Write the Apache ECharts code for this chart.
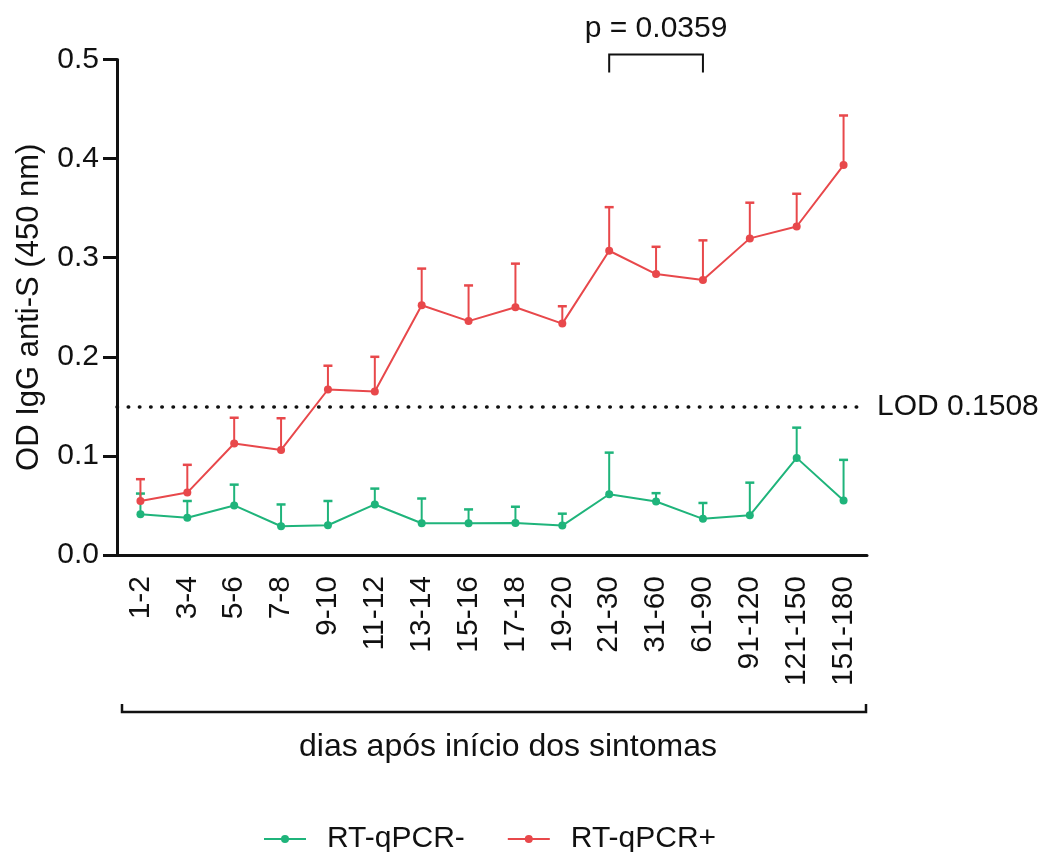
<!DOCTYPE html>
<html>
<head>
<meta charset="utf-8">
<script src="https://cdn.jsdelivr.net/npm/echarts@6/dist/echarts.min.js"></script>
<style>
  html, body { margin: 0; padding: 0; background: #fff; }
  #chart { width: 1044px; height: 852px; }
</style>
</head>
<body>
<div id="chart"></div>
<script>
// Day ranges after symptom onset
const categories = ['1-2', '3-4', '5-6', '7-8', '9-10', '11-12', '13-14', '15-16', '17-18', '19-20',
  '21-30', '31-60', '61-90', '91-120', '121-150', '151-180'];

// RT-qPCR negative: mean OD and upper error
const negMean = [0.041, 0.0375, 0.050, 0.029, 0.030, 0.051, 0.032, 0.032, 0.0324, 0.0297, 0.0613, 0.054, 0.0365, 0.040, 0.098, 0.055];
const negErr  = [0.021, 0.017, 0.021, 0.022, 0.0245, 0.016, 0.025, 0.014, 0.0163, 0.012, 0.042, 0.0084, 0.016, 0.033, 0.0305, 0.041];

// RT-qPCR positive: mean OD and upper error
const posMean = [0.0545, 0.063, 0.1125, 0.106, 0.167, 0.165, 0.252, 0.236, 0.250, 0.2335, 0.307, 0.2835, 0.2775, 0.3195, 0.3315, 0.3935];
const posErr  = [0.022, 0.028, 0.026, 0.032, 0.024, 0.035, 0.037, 0.036, 0.044, 0.0175, 0.044, 0.0275, 0.040, 0.036, 0.033, 0.050];

const yTicks = [0, 0.1, 0.2, 0.3, 0.4, 0.5];
const lod = 0.1508;
const pLabel = 'p = 0.0359';
const pFrom = '21-30', pTo = '61-90';

const GREEN = '#1fb47b';
const RED = '#e8484b';
const FONT = '"Liberation Sans", Arial, sans-serif';

const chart = echarts.init(document.getElementById('chart'));

function errorBars(means, errs, color) {
  return {
    type: 'custom',
    silent: true,
    data: means.map((m, i) => [i, m, errs[i]]),
    renderItem: function (params, api) {
      const i = api.value(0), m = api.value(1), e = api.value(2);
      const base = api.coord([i, m]);
      const top = api.coord([i, m + e]);
      const half = 4.5;
      return {
        type: 'group',
        children: [
          { type: 'line', shape: { x1: base[0], y1: base[1], x2: top[0], y2: top[1] },
            style: { stroke: color, lineWidth: 2 } },
          { type: 'line', shape: { x1: top[0] - half, y1: top[1], x2: top[0] + half, y2: top[1] },
            style: { stroke: color, lineWidth: 2.5 } }
        ]
      };
    },
    z: 2
  };
}

const option = {
  backgroundColor: '#fff',
  animation: false,
  textStyle: { fontFamily: FONT },
  grid: { left: 117, right: 177, top: 59.5, bottom: 297 },
  legend: {
    left: 258,
    top: 819,
    itemWidth: 42,
    itemHeight: 10,
    itemGap: 42,
    data: ['RT-qPCR-', 'RT-qPCR+'],
    textStyle: { fontSize: 30, color: '#111', fontFamily: FONT, padding: [0, 0, 0, 16] }
  },
  xAxis: {
    type: 'category',
    data: categories,
    boundaryGap: true,
    axisLine: { lineStyle: { color: '#111', width: 3 } },
    axisTick: { alignWithLabel: true, length: 15, lineStyle: { color: '#111', width: 3 } },
    axisLabel: { rotate: 90, fontSize: 30, color: '#111', margin: 21, interval: 0, fontFamily: FONT },
    splitLine: { show: false }
  },
  yAxis: {
    type: 'value',
    min: 0,
    max: 0.5,
    interval: 0.1,
    name: 'OD IgG anti-S (450 nm)',
    nameLocation: 'middle',
    nameRotate: 90,
    nameGap: 72,
    nameTextStyle: { fontSize: 31, color: '#111', fontFamily: FONT },
    axisLine: { show: true, lineStyle: { color: '#111', width: 3 } },
    axisTick: { show: true, length: 14, lineStyle: { color: '#111', width: 3 } },
    axisLabel: { fontSize: 30, color: '#111', margin: 18, fontFamily: FONT,
      formatter: v => yTicks.includes(+v.toFixed(1)) ? v.toFixed(1) : '' },
    splitLine: { show: false }
  },
  series: [
    errorBars(negMean, negErr, GREEN),
    {
      name: 'RT-qPCR-',
      type: 'line',
      data: negMean,
      color: GREEN,
      symbol: 'circle',
      symbolSize: 8,
      lineStyle: { width: 2, color: GREEN },
      itemStyle: { color: GREEN },
      z: 3
    },
    errorBars(posMean, posErr, RED),
    {
      name: 'RT-qPCR+',
      type: 'line',
      data: posMean,
      color: RED,
      symbol: 'circle',
      symbolSize: 8,
      lineStyle: { width: 2, color: RED },
      itemStyle: { color: RED },
      z: 4,
      markLine: {
        silent: true,
        symbol: 'none',
        animation: false,
        lineStyle: { color: '#111', width: 3.5, type: [0.5, 10.7], cap: 'round' },
        label: { show: true, position: 'end', formatter: 'LOD ' + lod, fontSize: 30, color: '#111',
          distance: 10, fontFamily: FONT },
        data: [{ yAxis: lod }]
      }
    }
  ]
};

chart.setOption(option);

// Annotations placed from the axis scales: significance bracket and category span bracket
const xa = chart.convertToPixel({ xAxisIndex: 0 }, pFrom);
const xb = chart.convertToPixel({ xAxisIndex: 0 }, pTo);
const yTop = chart.convertToPixel({ yAxisIndex: 0 }, 0.5);
const first = chart.convertToPixel({ xAxisIndex: 0 }, categories[0]);
const last = chart.convertToPixel({ xAxisIndex: 0 }, categories[categories.length - 1]);
const bw = (last - first) / (categories.length - 1);
const gl = first - bw / 2, gr = last + bw / 2;
const bracketY = 712;

chart.setOption({
  graphic: [
    { type: 'polyline', silent: true,
      shape: { points: [[xa, yTop + 13], [xa, yTop - 5], [xb, yTop - 5], [xb, yTop + 13]] },
      style: { stroke: '#111', lineWidth: 2, fill: null } },
    { type: 'text', silent: true, x: (xa + xb) / 2, y: yTop - 31,
      style: { text: pLabel, fill: '#111', align: 'center', verticalAlign: 'middle', font: '30px ' + FONT } },
    { type: 'polyline', silent: true,
      shape: { points: [[gl + 5, bracketY - 8], [gl + 5, bracketY], [gr - 1, bracketY], [gr - 1, bracketY - 8]] },
      style: { stroke: '#111', lineWidth: 2.5, fill: null } },
    { type: 'text', silent: true, x: (gl + gr) / 2 + 16, y: 747,
      style: { text: 'dias após início dos sintomas', fill: '#111', align: 'center', verticalAlign: 'middle', font: '32px ' + FONT } }
  ]
});
</script>
</body>
</html>
